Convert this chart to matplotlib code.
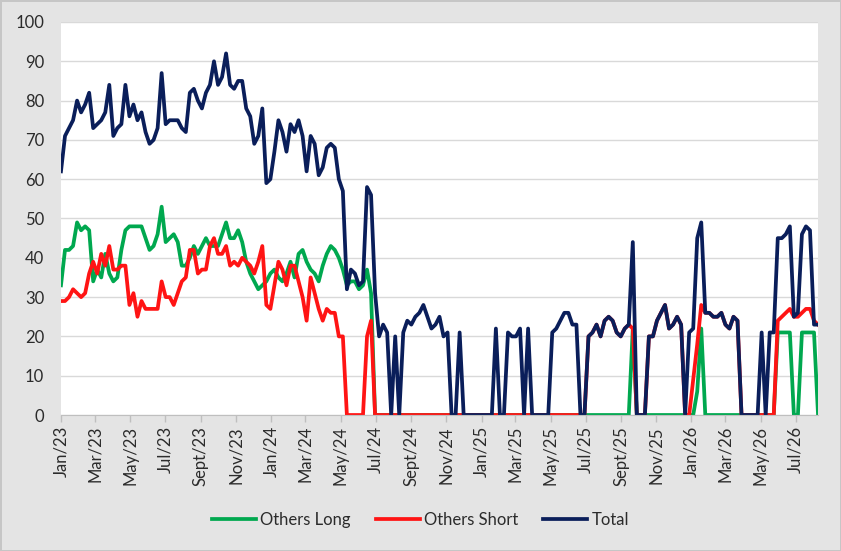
import matplotlib
matplotlib.use("Agg")
import matplotlib.pyplot as plt
import pandas as pd

plt.rcParams['font.family'] = ['Lato', 'DejaVu Sans']
plt.rcParams['text.color'] = '#2B2B2B'
plt.rcParams['xtick.labelcolor'] = '#2B2B2B'
plt.rcParams['ytick.labelcolor'] = '#2B2B2B'

# weekly report dates, first one on the Jan/23 tick
start_date = "2023-01-03"
n_weeks = 189

others_long = [
    33, 42, 42, 43, 49, 47, 48, 47, 34, 37,
    35, 41, 36, 34, 35, 42, 47, 48, 48, 48,
    48, 45, 42, 43, 46, 53, 44, 45, 46, 44,
    38, 38, 40, 43, 41, 43, 45, 43, 43, 43,
    46, 49, 45, 45, 47, 44, 39, 36, 34, 32,
    33, 34, 36, 37, 35, 34, 36, 39, 35, 41,
    42, 39, 37, 36, 34, 38, 41, 43, 42, 40,
    37, 33, 34, 34, 32, 33, 37, 31, 0, 0,
    0, 0, 0, 0, 0, 0, 0, 0, 0, 0,
    0, 0, 0, 0, 0, 0, 0, 0, 0, 0,
    0, 0, 0, 0, 0, 0, 0, 0, 0, 0,
    0, 0, 0, 0, 0, 0, 0, 0, 0, 0,
    0, 0, 0, 0, 0, 0, 0, 0, 0, 0,
    0, 0, 0, 0, 0, 0, 0, 0, 0, 0,
    0, 0, 22, 0, 0, 0, 0, 0, 0, 0,
    0, 0, 0, 0, 0, 0, 0, 0, 6, 22,
    0, 0, 0, 0, 0, 0, 0, 0, 0, 0,
    0, 0, 0, 0, 0, 0, 0, 0, 21, 21,
    21, 21, 0, 0, 21, 21, 21, 21, 0,
]

others_short = [
    29, 29, 30, 32, 31, 30, 31, 36, 39, 36,
    41, 38, 43, 37, 37, 38, 38, 28, 31, 25,
    29, 27, 27, 27, 27, 34, 30, 30, 28, 31,
    34, 35, 42, 42, 36, 37, 37, 43, 45, 41,
    41, 43, 38, 39, 38, 40, 39, 38, 36, 39,
    43, 28, 27, 33, 39, 37, 33, 38, 38, 34,
    30, 24, 35, 31, 27, 24, 27, 26, 26, 20,
    20, 0, 0, 0, 0, 0, 20, 24, 0, 0,
    0, 0, 0, 0, 0, 0, 0, 0, 0, 0,
    0, 0, 0, 0, 0, 0, 0, 0, 0, 0,
    0, 0, 0, 0, 0, 0, 0, 0, 0, 0,
    0, 0, 0, 0, 0, 0, 0, 0, 0, 0,
    0, 0, 0, 0, 0, 0, 0, 0, 0, 0,
    0, 20, 21, 23, 20, 24, 25, 24, 21, 20,
    22, 23, 22, 0, 0, 0, 20, 20, 24, 26,
    28, 22, 23, 25, 23, 0, 0, 9, 18, 28,
    26, 26, 25, 25, 26, 23, 22, 25, 24, 0,
    0, 0, 0, 0, 0, 0, 0, 0, 24, 25,
    26, 27, 25, 25, 26, 27, 27, 24, 23,
]

total = [
    62, 71, 73, 75, 80, 77, 79, 82, 73, 74,
    75, 77, 84, 71, 73, 74, 84, 76, 79, 75,
    77, 72, 69, 70, 73, 87, 74, 75, 75, 75,
    73, 72, 82, 83, 80, 78, 82, 84, 90, 84,
    86, 92, 84, 83, 85, 85, 78, 76, 69, 71,
    78, 59, 60, 67, 75, 72, 67, 74, 72, 75,
    71, 62, 71, 69, 61, 63, 68, 69, 68, 60,
    57, 32, 37, 36, 33, 34, 58, 56, 31, 20,
    23, 21, 0, 20, 0, 21, 24, 23, 25, 26,
    28, 25, 22, 23, 25, 20, 21, 0, 0, 21,
    0, 0, 0, 0, 0, 0, 0, 0, 22, 0,
    0, 21, 20, 20, 22, 0, 22, 0, 0, 0,
    0, 0, 21, 22, 24, 26, 26, 23, 23, 0,
    0, 20, 21, 23, 20, 24, 25, 24, 21, 20,
    22, 23, 44, 0, 0, 0, 20, 20, 24, 26,
    28, 22, 23, 25, 23, 0, 21, 22, 45, 49,
    26, 26, 25, 25, 26, 23, 22, 25, 24, 0,
    0, 0, 0, 0, 21, 0, 21, 21, 45, 45,
    46, 48, 25, 26, 46, 48, 47, 23, 23,
]

month_names = ['Jan', 'Feb', 'Mar', 'Apr', 'May', 'Jun',
               'Jul', 'Aug', 'Sept', 'Oct', 'Nov', 'Dec']

dates = pd.date_range(start_date, periods=n_weeks, freq='7D')
ticks = pd.date_range(start_date, dates[-1], freq=pd.DateOffset(months=2))
tick_labels = [f"{month_names[d.month - 1]}/{d.strftime('%y')}" for d in ticks]

fig = plt.figure(figsize=(8.41, 5.51), dpi=100)
fig.patch.set_facecolor('#E4E4E4')
fig.patch.set_edgecolor('#C6C6C6')
fig.patch.set_linewidth(2)
ax = fig.add_axes([0.0725, 0.2468, 0.9002, 0.7133])
ax.set_facecolor('white')

ax.plot(dates, others_long, color='#00A84F', lw=2.7, label='Others Long', solid_joinstyle='round')
ax.plot(dates, others_short, color='#FF1414', lw=2.7, label='Others Short', solid_joinstyle='round')
ax.plot(dates, total, color='#0A1E5A', lw=2.7, label='Total', solid_joinstyle='round')

ax.set_xlim(dates[0], dates[-1])
ax.set_ylim(0, 100)
ax.set_yticks(range(0, 101, 10))
ax.set_xticks(ticks)
ax.set_xticklabels(tick_labels, rotation=90, fontsize=12)
ax.tick_params(axis='y', length=0, pad=12, labelsize=12)
ax.tick_params(axis='x', length=5, width=1, color='#BFBFBF', pad=3)
ax.grid(axis='y', color='#D9D9D9', lw=1)
ax.set_axisbelow(True)
for side in ['top', 'right', 'left']:
    ax.spines[side].set_visible(False)
ax.spines['bottom'].set_color('#BFBFBF')

fig.legend(loc='center', bbox_to_anchor=(0.5, 0.056), ncol=3, frameon=False,
           fontsize=12, handlelength=2.65, columnspacing=1.5, handletextpad=0.25)

fig.savefig('out.png', dpi=100)
